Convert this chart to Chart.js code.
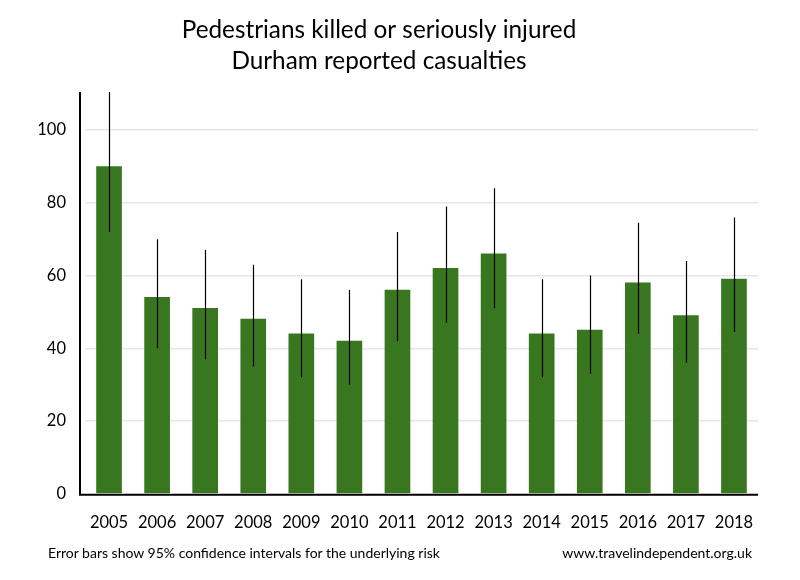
<!DOCTYPE html>
<html>
<head>
<meta charset="utf-8">
<script src="https://cdn.jsdelivr.net/npm/chart.js@4"></script>
<style>
  html, body { margin: 0; padding: 0; background: #fff; }
  #wrap { position: relative; width: 800px; height: 580px; }
  .note { position: absolute; font-family: Lato, sans-serif; font-size: 14px; color: #000; white-space: nowrap; }
  #noteLeft { left: 48px; top: 544px; }
  #noteRight { right: 48px; top: 544px; }
</style>
</head>
<body>
<div id="wrap">
  <canvas id="chart" width="800" height="580"></canvas>
  <div class="note" id="noteLeft">Error bars show 95% confidence intervals for the underlying risk</div>
  <div class="note" id="noteRight">www.travelindependent.org.uk</div>
</div>
<script>
"use strict";

// Data
var years = ["2005", "2006", "2007", "2008", "2009", "2010", "2011",
             "2012", "2013", "2014", "2015", "2016", "2017", "2018"];
var casualties = [90, 54, 51, 48, 44, 42, 56, 62, 66, 44, 45, 58, 49, 59];
var ciLow = [72, 40, 37, 35, 32, 30, 42, 47, 51, 32, 33, 44, 36, 44.5];
var ciHigh = [114, 70, 67, 63, 59, 56, 72, 79, 84, 59, 60, 74.5, 64, 76];
var yTicks = [0, 20, 40, 60, 80, 100];

var settings = {
    barColor: "#38761f",
    gridColor: "#e6e6e6",
    font: "Lato, 'Open Sans', sans-serif"
};

// error bars + hand-placed axis lines
var errorBarPlugin = {
    id: "errorBars",
    afterDatasetsDraw: function (chart) {
        var ctx = chart.ctx,
            x = chart.scales.x,
            y = chart.scales.y,
            area = chart.chartArea;
        ctx.save();
        ctx.beginPath();
        ctx.rect(area.left, area.top, area.right - area.left, area.bottom - area.top);
        ctx.clip();
        ctx.strokeStyle = "#000";
        ctx.lineWidth = 1.2;
        years.forEach(function (yr, i) {
            var px = Math.round(x.getPixelForValue(i)) + 0.5;
            ctx.beginPath();
            ctx.moveTo(px, y.getPixelForValue(ciLow[i]));
            ctx.lineTo(px, y.getPixelForValue(ciHigh[i]));
            ctx.stroke();
        });
        ctx.restore();

        // axis lines
        ctx.save();
        ctx.strokeStyle = "#000";
        ctx.lineWidth = 2;
        ctx.beginPath();
        ctx.moveTo(area.left - 5, area.top);
        ctx.lineTo(area.left - 5, area.bottom + 1);
        ctx.lineTo(area.right, area.bottom + 1);
        ctx.stroke();
        ctx.restore();
    }
};

var ctx = document.getElementById("chart").getContext("2d");
window.chart = new Chart(ctx, {
    type: "bar",
    data: {
        labels: years,
        datasets: [{
            label: "Pedestrians KSI",
            data: casualties,
            backgroundColor: settings.barColor,
            barThickness: 25
        }]
    },
    plugins: [errorBarPlugin],
    options: {
        responsive: false,
        animation: false,
        layout: {
            padding: { left: 0, right: 42, bottom: 27.5, top: 0 }
        },
        plugins: {
            legend: { display: false },
            tooltip: { enabled: false },
            title: {
                display: true,
                text: ["Pedestrians killed or seriously injured", "Durham reported casualties"],
                color: "#000",
                font: { family: settings.font, size: 24.3, weight: "normal", lineHeight: 1.275 },
                padding: { top: 15, bottom: 15 }
            }
        },
        scales: {
            x: {
                grid: { display: false, drawTicks: false },
                border: { display: false },
                ticks: {
                    color: "#000",
                    padding: 19.5,
                    maxRotation: 0,
                    font: { family: settings.font, size: 16.5 }
                }
            },
            y: {
                min: 0,
                max: 110.5,
                afterBuildTicks: function (scale) {
                    scale.ticks = yTicks.map(function (v) { return { value: v }; });
                },
                afterFit: function (scale) {
                    scale.width = 85;
                },
                grid: {
                    color: function (c) { return c.tick.value === 0 ? "rgba(0,0,0,0)" : settings.gridColor; },
                    lineWidth: 1.5,
                    drawTicks: false
                },
                border: { display: false },
                ticks: {
                    color: "#000",
                    padding: 19,
                    font: { family: settings.font, size: 16.5 }
                }
            }
        }
    }
});
</script>
</body>
</html>
